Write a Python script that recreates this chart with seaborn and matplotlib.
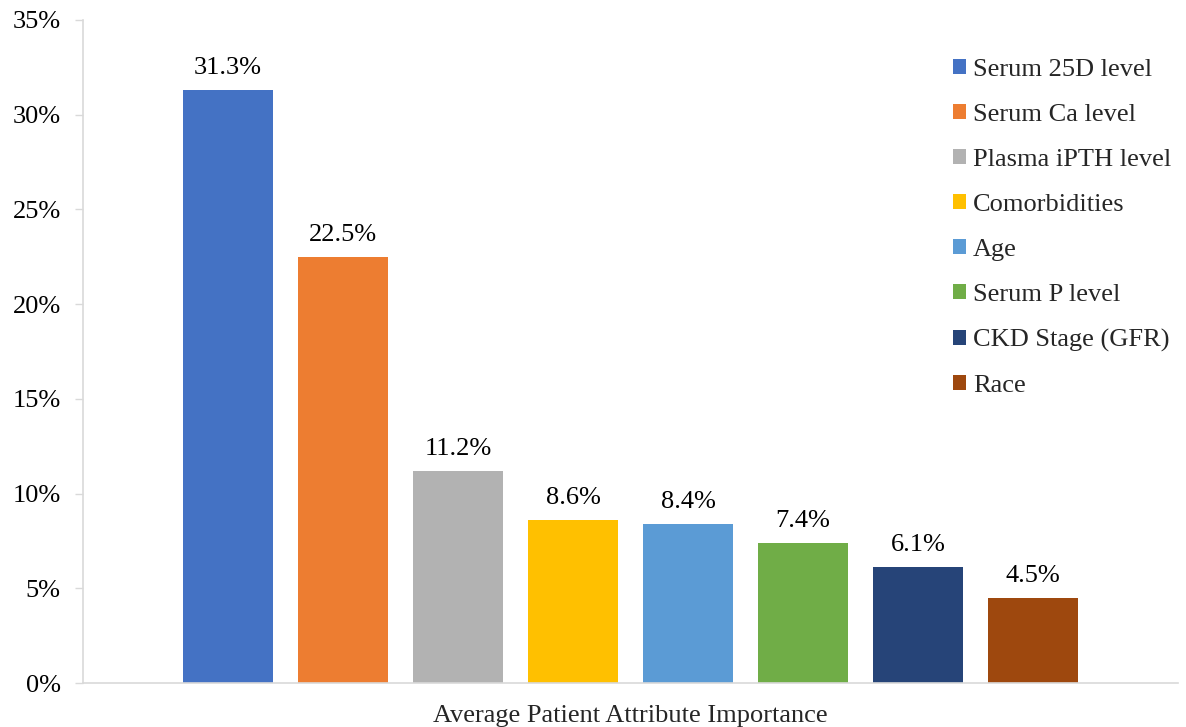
import matplotlib
matplotlib.use("Agg")
import matplotlib.pyplot as plt
import seaborn as sns
import pandas as pd
from matplotlib.ticker import FuncFormatter

attributes = ["Serum 25D level", "Serum Ca level", "Plasma iPTH level", "Comorbidities",
              "Age", "Serum P level", "CKD Stage (GFR)", "Race"]
importance = [31.3, 22.5, 11.2, 8.6, 8.4, 7.4, 6.1, 4.5]
colors = ["#4472C4", "#ED7D31", "#B2B2B2", "#FFC000", "#5B9BD5", "#70AD47", "#264478", "#9E480E"]
category = "Average Patient Attribute Importance"
yticks = [0, 5, 10, 15, 20, 25, 30, 35]

df = pd.DataFrame({"cat": [category] * len(attributes), "attr": attributes, "val": importance})

sns.set_theme(style="white")
plt.rcParams["font.family"] = ["Liberation Serif", "DejaVu Serif"]

FS = 19

fig = plt.figure(figsize=(11.86, 7.27), dpi=100)
ax = fig.add_axes([83/1186, 1-683/727, (1178-83)/1186, (683-20)/727])

sns.barplot(data=df, x="cat", y="val", hue="attr", hue_order=attributes,
            palette=colors, width=0.84, gap=0.217, saturation=1, linewidth=0,
            ax=ax, legend=True)

ax.set_xlim(-0.5, 0.5)
ax.set_ylim(0, 35)
ax.set_yticks(yticks)
ax.yaxis.set_major_formatter(FuncFormatter(lambda v, p: f"{v:.0f}%"))
ax.tick_params(axis="y", which="major", left=True, length=6, width=1, color="#d9d9d9",
               labelsize=FS, pad=10, labelcolor="black")
ax.tick_params(axis="x", bottom=False, labelbottom=False)
ax.set_ylabel("")
ax.set_xlabel("")
for s in ["top", "right"]:
    ax.spines[s].set_visible(False)
for s in ["left", "bottom"]:
    ax.spines[s].set_color("#d9d9d9")
    ax.spines[s].set_linewidth(1.2)

for cont in ax.containers:
    ax.bar_label(cont, fmt="%.1f%%", padding=8, fontsize=FS, color="black")

fig.text(630/1186, 1-716/727, category, ha="center", va="center", fontsize=FS)

handles, labels = ax.get_legend_handles_labels()
ax.legend(handles, labels, loc="upper left", bbox_to_anchor=(953/1186, 1-59/727),
          bbox_transform=fig.transFigure, frameon=False, fontsize=FS,
          handlelength=0.5, handleheight=0.5, handletextpad=0.25, labelspacing=0.87,
          borderpad=0, borderaxespad=0, title=None)

fig.savefig("out.png", dpi=100)
